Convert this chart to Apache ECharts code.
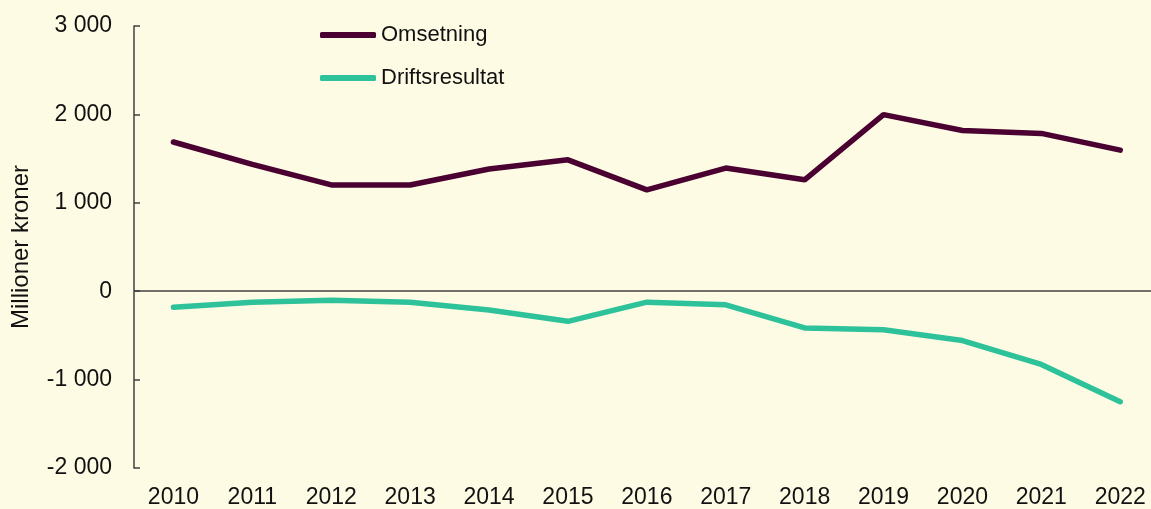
<!DOCTYPE html>
<html>
<head>
<meta charset="utf-8">
<script src="https://cdn.jsdelivr.net/npm/echarts@6/dist/echarts.min.js"></script>
<style>
  html, body { margin: 0; padding: 0; background: #fefbe5; }
  #chart { width: 1151px; height: 509px; }
</style>
</head>
<body>
<div id="chart"></div>
<script>
const years = [2010, 2011, 2012, 2013, 2014, 2015, 2016, 2017, 2018, 2019, 2020, 2021, 2022];
const omsetning = [1688, 1435, 1202, 1202, 1382, 1486, 1146, 1393, 1260, 1998, 1818, 1785, 1596];
const driftsresultat = [-182, -124, -101, -124, -212, -341, -124, -154, -416, -435, -558, -828, -1250];
const yTicks = { min: -2000, max: 3000, step: 1000 };

const fontFamily = '"Liberation Sans", Arial, sans-serif';
const axisColor = '#404040';

const chart = echarts.init(document.getElementById('chart'));

const fmt = (v) => {
  const s = String(Math.abs(v)).replace(/\B(?=(\d{3})+(?!\d))/g, ' ');
  return (v < 0 ? '-' : '') + s;
};

const pairs = (vals) => years.map((y, i) => [y, vals[i]]);

chart.setOption({
  backgroundColor: '#fefbe5',
  animation: false,
  textStyle: { fontFamily },
  legend: {
    orient: 'vertical',
    left: 315,
    top: 19,
    icon: 'roundRect',
    itemWidth: 56,
    itemHeight: 6,
    itemGap: 21,
    textStyle: { fontSize: 22, lineHeight: 22, color: '#111', fontFamily },
    data: ['Omsetning', 'Driftsresultat']
  },
  grid: { left: 134, top: 26, right: 0, height: 443, containLabel: false },
  xAxis: {
    type: 'value',
    min: 2009.5,
    max: 2022.39,
    axisLine: { show: false },
    axisTick: { show: false },
    splitLine: { show: false },
    axisLabel: {
      fontSize: 23, color: '#111', margin: 18, fontFamily,
      customValues: years,
      formatter: (v) => String(v)
    }
  },
  yAxis: {
    type: 'value',
    min: yTicks.min,
    max: yTicks.max,
    interval: yTicks.step,
    name: 'Millioner kroner',
    nameLocation: 'middle',
    nameGap: 101,
    nameTextStyle: { fontSize: 24, color: '#111', fontFamily },
    axisLine: { show: true, lineStyle: { color: axisColor, width: 1.5 } },
    axisTick: { show: true, inside: true, length: 6, lineStyle: { color: axisColor, width: 1.5 } },
    axisLabel: { fontSize: 23, color: '#111', margin: 22, fontFamily, formatter: fmt },
    splitLine: { show: false }
  },
  series: [
    {
      name: 'Omsetning',
      type: 'line',
      data: pairs(omsetning),
      symbol: 'none',
      color: '#4a0030',
      lineStyle: { width: 5.5, color: '#4a0030', cap: 'round' },
      markLine: {
        silent: true,
        symbol: 'none',
        label: { show: false },
        lineStyle: { type: 'solid', color: axisColor, width: 1.5 },
        data: [{ yAxis: 0 }],
        z: 1
      },
      z: 3
    },
    {
      name: 'Driftsresultat',
      type: 'line',
      data: pairs(driftsresultat),
      symbol: 'none',
      color: '#2ec29b',
      lineStyle: { width: 5.5, color: '#2ec29b', cap: 'round' },
      z: 3
    }
  ]
});
</script>
</body>
</html>
